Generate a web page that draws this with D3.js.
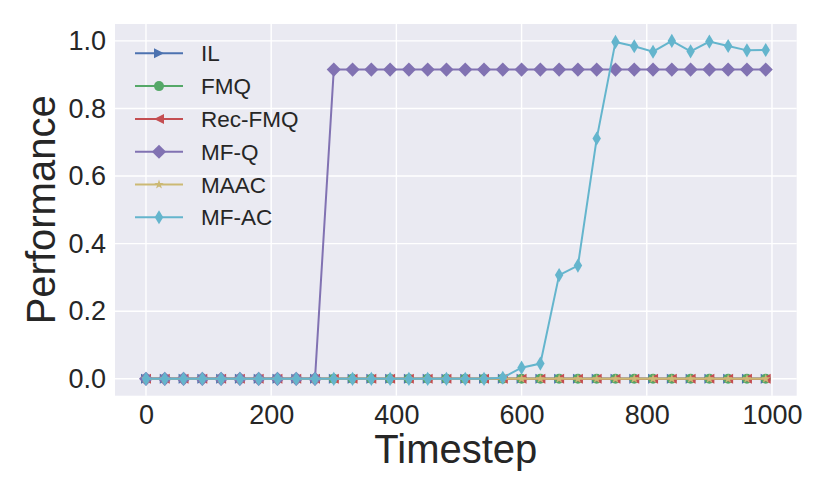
<!DOCTYPE html>
<html>
<head>
<meta charset="utf-8">
<script src="https://cdn.jsdelivr.net/npm/d3@7"></script>
<style>
  body { margin: 0; background: #fff; }
  text { font-family: "Liberation Sans", Arial, sans-serif; fill: #262626; }
</style>
</head>
<body>
<div id="chart"></div>
<script>
'use strict';

// datos
const timesteps = [0, 30, 60, 90, 120, 150, 180, 210, 240, 270, 300, 330, 360, 390, 420, 450, 480,
  510, 540, 570, 600, 630, 660, 690, 720, 750, 780, 810, 840, 870, 900, 930, 960, 990];

const ilValues = [0, 0, 0, 0, 0, 0, 0, 0, 0, 0, 0, 0, 0, 0, 0, 0, 0,
  0, 0, 0, 0, 0, 0, 0, 0, 0, 0, 0, 0, 0, 0, 0, 0, 0];
const fmqValues = [0, 0, 0, 0, 0, 0, 0, 0, 0, 0, 0, 0, 0, 0, 0, 0, 0,
  0, 0, 0, 0, 0, 0, 0, 0, 0, 0, 0, 0, 0, 0, 0, 0, 0];
const recFmqValues = [0, 0, 0, 0, 0, 0, 0, 0, 0, 0, 0, 0, 0, 0, 0, 0, 0,
  0, 0, 0, 0, 0, 0, 0, 0, 0, 0, 0, 0, 0, 0, 0, 0, 0];
const mfqValues = [0, 0, 0, 0, 0, 0, 0, 0, 0, 0, 0.915, 0.915, 0.915, 0.915, 0.915, 0.915, 0.915,
  0.915, 0.915, 0.915, 0.915, 0.915, 0.915, 0.915, 0.915, 0.915, 0.915, 0.915, 0.915, 0.915, 0.915, 0.915, 0.915, 0.915];
const maacValues = [0, 0, 0, 0, 0, 0, 0, 0, 0, 0, 0, 0, 0, 0, 0, 0, 0,
  0, 0, 0, 0, 0, 0, 0, 0, 0, 0, 0, 0, 0, 0, 0, 0, 0];
const mfacValues = [0, 0, 0, 0, 0, 0, 0, 0, 0, 0, 0, 0, 0, 0, 0, 0, 0,
  0, 0, 0.003, 0.033, 0.045, 0.307, 0.335, 0.711, 0.997, 0.984, 0.968, 1.0, 0.969, 0.998, 0.985, 0.972, 0.973];

const seriesNames = ['IL', 'FMQ', 'Rec-FMQ', 'MF-Q', 'MAAC', 'MF-AC'];
const seriesValues = [ilValues, fmqValues, recFmqValues, mfqValues, maacValues, mfacValues];
const seriesColors = ['#4C72B0', '#55A868', '#C44E52', '#8172B2', '#CCB974', '#64B5CD'];
const seriesMarkers = ['triRight', 'circle', 'triLeft', 'diamond', 'star', 'thinDiamond'];

const xTicks = [0, 200, 400, 600, 800, 1000];
const yTicks = [0.0, 0.2, 0.4, 0.6, 0.8, 1.0];

// forma de los marcadores (ms = tamaño en px)
function markerPath(shape, ms) {
  const h = ms / 2;
  if (shape === 'triRight') {
    return `M${h},0L${-h},${-h}L${-h},${h}Z`;
  }
  if (shape === 'triLeft') {
    return `M${-h},0L${h},${-h}L${h},${h}Z`;
  }
  if (shape === 'circle') {
    return `M${h},0A${h},${h},0,1,1,${-h},0A${h},${h},0,1,1,${h},0Z`;
  }
  if (shape === 'diamond') {
    const d = ms * Math.SQRT2 / 2;
    return `M0,${-d}L${d},0L0,${d}L${-d},0Z`;
  }
  if (shape === 'thinDiamond') {
    const d = ms * Math.SQRT2 / 2;
    const w = d * 0.6;
    return `M0,${-d}L${w},0L0,${d}L${-w},0Z`;
  }
  // estrella de 5 puntas
  const pts = [];
  for (let i = 0; i < 10; i++) {
    const r = i % 2 === 0 ? h : h * 0.381966;
    const a = -Math.PI / 2 + i * Math.PI / 5;
    pts.push([r * Math.cos(a), r * Math.sin(a)]);
  }
  return 'M' + pts.map(p => p.join(',')).join('L') + 'Z';
}

function drawChart(elementID) {
  const width = 830;
  const height = 498;
  const left = 115;
  const right = 796.7;
  const top = 24;
  const bottom = 395.7;
  const ms = 10;

  const scaleX = d3.scaleLinear()
    .domain([-49.5, 1039.5])
    .range([left, right]);

  const scaleY = d3.scaleLinear()
    .domain([-0.05, 1.05])
    .range([bottom, top]);

  document.getElementById(elementID).innerHTML = '';
  const svg = d3.select('#' + elementID)
    .append('svg')
    .attr('width', width)
    .attr('height', height);

  // fondo del area
  svg.append('rect')
    .attr('x', left)
    .attr('y', top)
    .attr('width', right - left)
    .attr('height', bottom - top)
    .attr('fill', '#EAEAF2');

  // rejilla
  svg.append('g')
    .selectAll('line')
    .data(xTicks)
    .enter()
    .append('line')
    .attr('x1', d => scaleX(d))
    .attr('x2', d => scaleX(d))
    .attr('y1', top)
    .attr('y2', bottom)
    .attr('stroke', '#fff')
    .attr('stroke-width', 1.4);

  svg.append('g')
    .selectAll('line')
    .data(yTicks)
    .enter()
    .append('line')
    .attr('x1', left)
    .attr('x2', right)
    .attr('y1', d => scaleY(d))
    .attr('y2', d => scaleY(d))
    .attr('stroke', '#fff')
    .attr('stroke-width', 1.4);

  // ejes
  const xAxis = d3.axisBottom(scaleX)
    .tickValues(xTicks)
    .tickSize(0)
    .tickPadding(9)
    .tickFormat(d3.format('d'));

  const gx = svg.append('g')
    .attr('class', 'axisX')
    .attr('transform', `translate(0, ${bottom})`)
    .call(xAxis);

  const yAxis = d3.axisLeft(scaleY)
    .tickValues(yTicks)
    .tickSize(0)
    .tickPadding(9)
    .tickFormat(d3.format('.1f'));

  const gy = svg.append('g')
    .attr('class', 'axisY')
    .attr('transform', `translate(${left}, 0)`)
    .call(yAxis);

  [gx, gy].forEach(g => {
    g.select('.domain').remove();
    g.selectAll('text')
      .attr('fill', '#262626')
      .style('font-size', '27px')
      .style('font-family', '"Liberation Sans", Arial, sans-serif');
  });

  svg.append('text')
    .attr('x', (left + right) / 2)
    .attr('y', 463)
    .attr('text-anchor', 'middle')
    .style('font-size', '40px')
    .text('Timestep');

  svg.append('text')
    .attr('transform', `translate(55, ${(top + bottom) / 2}) rotate(-90)`)
    .attr('text-anchor', 'middle')
    .style('font-size', '40px')
    .text('Performance');

  // series
  const line = d3.line()
    .x(d => scaleX(d[0]))
    .y(d => scaleY(d[1]));

  seriesNames.forEach((name, i) => {
    const pts = timesteps.map((t, j) => [t, seriesValues[i][j]]);
    const g = svg.append('g').attr('class', 'series');

    g.append('path')
      .datum(pts)
      .attr('d', line)
      .attr('fill', 'none')
      .attr('stroke', seriesColors[i])
      .attr('stroke-width', 2);

    g.selectAll('path.marker')
      .data(pts)
      .enter()
      .append('path')
      .attr('class', 'marker')
      .attr('transform', d => `translate(${scaleX(d[0])}, ${scaleY(d[1])})`)
      .attr('d', markerPath(seriesMarkers[i], ms))
      .attr('fill', seriesColors[i]);
  });

  // leyenda
  const legend = svg.append('g')
    .attr('class', 'legend')
    .selectAll('g')
    .data(seriesNames)
    .enter()
    .append('g')
    .attr('transform', (d, i) => `translate(135, ${53.3 + i * 32.8})`);

  legend.append('line')
    .attr('x1', 0)
    .attr('x2', 48)
    .attr('stroke', (d, i) => seriesColors[i])
    .attr('stroke-width', 2);

  legend.append('path')
    .attr('transform', 'translate(24, 0)')
    .attr('d', (d, i) => markerPath(seriesMarkers[i], ms))
    .attr('fill', (d, i) => seriesColors[i]);

  legend.append('text')
    .attr('x', 66)
    .attr('dy', '0.36em')
    .style('font-size', '22.5px')
    .text(d => d);
}

drawChart('chart');
</script>
</body>
</html>
